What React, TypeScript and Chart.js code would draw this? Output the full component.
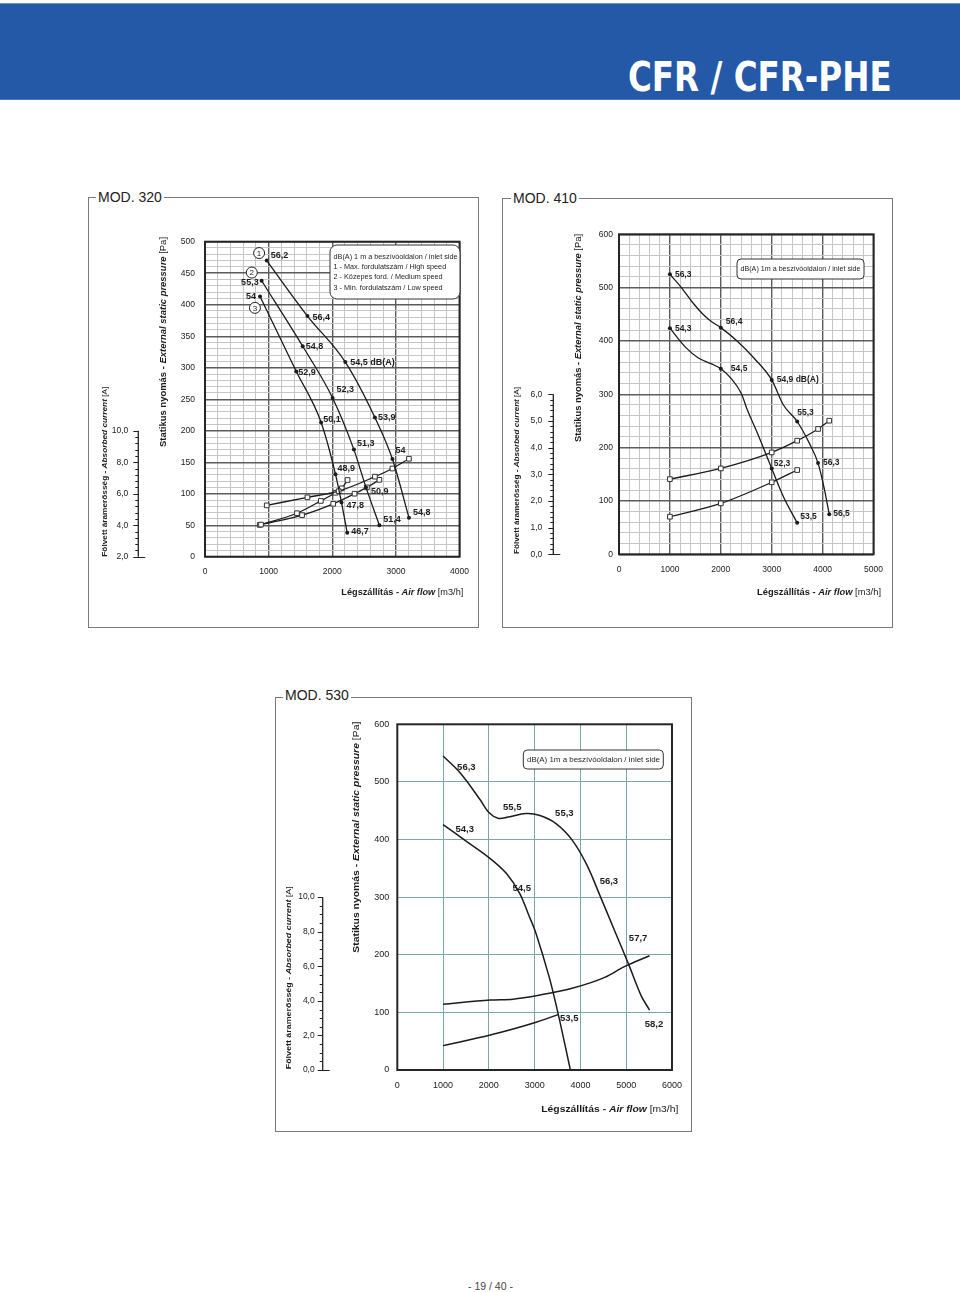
import React, { useEffect, useLayoutEffect, useRef } from 'react';
import { Chart, registerables } from 'chart.js';

Chart.register(...registerables);

const FONT = '"Liberation Sans", Arial, Helvetica, sans-serif';
const INK = '#1c1c1c';

// ---------------- MOD. 320 ----------------
// static pressure [Pa] vs air flow [m3/h] for three speeds, with dB(A) at the marked points
const flow320High = [970, 1610, 2205, 2670, 2945, 3205];
const pres320High = [470, 382, 309, 221, 155, 62];
const db320High = ['56,2', '56,4', '54,5 dB(A)', '53,9', '54', '54,8'];
const flow320Med = [890, 1535, 2005, 2340, 2530, 2740];
const pres320Med = [438, 334, 252, 170, 110, 50];
const db320Med = ['55,3', '54,8', '52,3', '51,3', '50,9', '51,4'];
const flow320Low = [865, 1435, 1825, 2050, 2145, 2235];
const pres320Low = [413, 294, 213, 131, 86, 38];
const db320Low = ['54', '52,9', '50,1', '48,9', '47,8', '46,7'];
// absorbed current [A]
const flow320CurHigh = [970, 1610, 2100, 2670, 2945, 3205];
const cur320High = [5.26, 5.77, 6.16, 7.08, 7.6, 8.22];
const flow320CurMed = [880, 1525, 2015, 2350, 2545, 2740];
const cur320Med = [4.04, 4.64, 5.36, 6.0, 6.4, 6.88];
const flow320CurLow = [860, 1445, 1820, 2050, 2150, 2240];
const cur320Low = [4.02, 4.76, 5.54, 6.06, 6.34, 6.87];
// speed markers (circled numbers)
const speedMarks320 = ['1', '2', '3'];
const speedMarkFlow320 = [850, 735, 785];
const speedMarkPres320 = [482, 451, 395];
const legend320 = [
  'dB(A) 1 m a beszívóoldalon / inlet side',
  '1 - Max. fordulatszám / High speed',
  '2 - Közepes ford. / Medium speed',
  '3 - Min. fordulatszám / Low speed',
];

// ---------------- MOD. 410 ----------------
const flow410HighCurve = [1000, 1210, 1430, 1660, 1820, 2000, 2330, 2650, 3000, 3230, 3500, 3740, 3910, 4030, 4130];
const pres410HighCurve = [525, 502, 474, 449, 436, 425, 399, 368, 327, 280, 249, 208, 171, 124, 75];
const flow410LowCurve = [1000, 1300, 1560, 1820, 2000, 2200, 2400, 2520, 2720, 3000, 3230, 3500];
const pres410LowCurve = [424, 389, 368, 357, 348, 330, 302, 271, 227, 161, 108, 59];
const flow410HighPts = [1000, 2000, 3000, 3500, 3910, 4130];
const pres410HighPts = [525, 425, 327, 249, 171, 75];
const db410High = ['56,3', '56,4', '54,9 dB(A)', '55,3', '56,3', '56,5'];
const flow410LowPts = [1000, 2000, 3000, 3500];
const pres410LowPts = [424, 348, 161, 59];
const db410Low = ['54,3', '54,5', '52,3', '53,5'];
const flow410CurHigh = [1000, 2000, 3000, 3500, 3910, 4130];
const cur410High = [2.82, 3.22, 3.82, 4.26, 4.7, 5.01];
const flow410CurLow = [1000, 2000, 3000, 3500];
const cur410Low = [1.41, 1.91, 2.7, 3.16];
const legend410 = ['dB(A) 1m a beszívóoldalon / inlet side'];

// ---------------- MOD. 530 ----------------
const flow530High = [1000, 1380, 1810, 2000, 2200, 2420, 2810, 3100, 3460, 3820, 4140, 4420, 4740, 5060, 5320, 5510];
const pres530High = [545, 515, 469, 447, 437, 439, 445, 442, 428, 399, 356, 304, 243, 182, 130, 104];
const flow530Low = [1000, 1525, 2030, 2385, 2670, 2870, 3030, 3315, 3495, 3640, 3780];
const pres530Low = [426, 396, 367, 341, 307, 269, 237, 162, 104, 52, 0];
const flow530CurHigh = [1000, 2030, 2530, 3100, 3820, 4530, 4960, 5510];
const cur530High = [3.8, 4.05, 4.1, 4.33, 4.73, 5.36, 5.98, 6.61];
const flow530CurLow = [1000, 2030, 2960, 3530];
const cur530Low = [1.41, 2.02, 2.7, 3.22];
const db530 = ['56,3', '55,5', '55,3', '54,3', '54,5', '56,3', '57,7', '53,5', '58,2'];
const db530Flow = [1508, 2511, 3649, 1472, 2717, 4622, 5260, 3757, 5606];
const db530Pres = [526, 455, 445, 418, 316, 328, 228, 89, 80];
const legend530 = ['dB(A) 1m a beszívóoldalon / inlet side'];

// axis titles (text, style: 0 normal, 1 bold, 2 bold italic)
const titlePressure: [string, number][] = [['Statikus nyomás - ', 1], ['External static pressure', 2], [' [Pa]', 0]];
const titleCurrent: [string, number][] = [['Fölvett áramerősség - ', 1], ['Absorbed current', 2], [' [A]', 0]];
const titleFlow: [string, number][] = [['Légszállítás - ', 1], ['Air flow', 2], [' [m3/h]', 0]];

// label offsets (pixels) relative to marked points; negative dx = text ends left of point
const off320High = [[4, -5], [5, 1], [5, 0], [3, 0], [3, -9], [4, -5]];
const off320Med = [[-3, 2], [3, 0], [4, -8], [3, -6], [5, 4], [4, -6]];
const off320Low = [[-4, 0], [2, 1], [2, -3], [2, -6], [5, 3], [4, -1]];
const off410High = [[5, 0], [5, -6], [5, 0], [0, -9], [5, 0], [4, -1]];
const off410Low = [[5, 0], [10, 0], [2, -5], [3, -6]];

const pts = (xs: number[], ys: number[]) => xs.map((x, i) => ({ x, y: ys[i] }));

function presDs(xs: number[], ys: number[], showLine: boolean, radius: number, width: number, smooth = false) {
  return {
    data: pts(xs, ys),
    showLine,
    borderColor: INK,
    borderWidth: width,
    pointRadius: radius,
    pointBackgroundColor: INK,
    pointBorderWidth: 0,
    cubicInterpolationMode: smooth ? 'default' : 'monotone',
    tension: smooth ? 0.35 : 0,
    fill: false,
    yAxisID: 'y',
  };
}
function curDs(xs: number[], ys: number[], radius: number, width: number) {
  return {
    data: pts(xs, ys),
    borderColor: INK,
    borderWidth: width,
    pointStyle: 'rect',
    pointRadius: radius,
    pointBackgroundColor: '#ffffff',
    pointBorderColor: '#333',
    pointBorderWidth: 1,
    cubicInterpolationMode: 'monotone',
    fill: false,
    yAxisID: 'y2',
  };
}

function fontOf(st: number, size: number) {
  return `${st === 2 ? 'italic ' : ''}${st >= 1 ? 'bold ' : ''}${size}px ${FONT}`;
}

function drawRich(ctx: CanvasRenderingContext2D, segs: [string, number][], size: number, x: number, y: number,
  len: number, rotated: boolean, align: 'left' | 'right', color: string) {
  ctx.save();
  ctx.translate(x, y);
  if (rotated) ctx.rotate(-Math.PI / 2);
  const widths = segs.map(([t, st]) => { ctx.font = fontOf(st, size); return ctx.measureText(t).width; });
  const total = widths.reduce((a, b) => a + b, 0);
  ctx.scale(len ? len / total : 1, 1);
  let cx = align === 'right' ? -total : 0;
  ctx.fillStyle = color;
  ctx.textBaseline = 'middle';
  ctx.textAlign = 'left';
  segs.forEach(([t, st], i) => { ctx.font = fontOf(st, size); ctx.fillText(t, cx, 0); cx += widths[i]; });
  ctx.restore();
}

const isMajor = (v: number, m: number) => Math.abs(v / m - Math.round(v / m)) < 1e-6;

function overlayPlugin(spec: any) {
  return {
    id: 'overlay' + spec.key,
    beforeDatasetsDraw(chart: any) {
      const { ctx, chartArea: a } = chart;
      ctx.save();
      ctx.strokeStyle = '#262626';
      ctx.lineWidth = 2;
      ctx.strokeRect(a.left, a.top, a.right - a.left, a.bottom - a.top);
      ctx.restore();
    },
    afterDraw(chart: any) {
      const ctx: CanvasRenderingContext2D = chart.ctx;
      const ox = spec.ox, oy = spec.oy;
      const sx = chart.scales.x, sy = chart.scales.y, s2 = chart.scales.y2;
      ctx.save();
      // point labels
      (spec.pointLabels || []).forEach((pl: any) => {
        const meta = chart.getDatasetMeta(pl.ds);
        ctx.font = `bold ${spec.labelSize}px ${FONT}`;
        ctx.fillStyle = INK;
        ctx.textBaseline = 'middle';
        pl.texts.forEach((t: string, i: number) => {
          const el = meta.data[i];
          const [dx, dy] = pl.offs[i];
          ctx.textAlign = dx < 0 ? 'right' : 'left';
          ctx.fillText(t, el.x + dx, el.y + dy);
        });
      });
      // free labels (data positioned)
      if (spec.freeLabels) {
        const fl = spec.freeLabels;
        ctx.font = `bold ${spec.labelSize}px ${FONT}`;
        ctx.fillStyle = INK;
        ctx.textBaseline = 'middle';
        ctx.textAlign = 'center';
        fl.texts.forEach((t: string, i: number) => {
          ctx.fillText(t, sx.getPixelForValue(fl.xs[i]), sy.getPixelForValue(fl.ys[i]));
        });
      }
      // circled speed numbers
      if (spec.circles) {
        const c = spec.circles;
        c.texts.forEach((t: string, i: number) => {
          const x = sx.getPixelForValue(c.xs[i]);
          const y = sy.getPixelForValue(c.ys[i]);
          ctx.beginPath();
          ctx.arc(x, y, 5.5, 0, Math.PI * 2);
          ctx.fillStyle = '#fff';
          ctx.fill();
          ctx.lineWidth = 1;
          ctx.strokeStyle = '#222';
          ctx.stroke();
          ctx.fillStyle = '#222';
          ctx.font = `8px ${FONT}`;
          ctx.textAlign = 'center';
          ctx.textBaseline = 'middle';
          ctx.fillText(t, x, y + 0.5);
        });
      }
      // legend box
      if (spec.legend) {
        const L = spec.legend;
        const bx = L.x - ox, by = L.y - oy;
        ctx.beginPath();
        (ctx as any).roundRect(bx, by, L.w, L.h, L.r);
        ctx.fillStyle = '#fff';
        ctx.fill();
        ctx.lineWidth = 1;
        ctx.strokeStyle = '#333';
        ctx.stroke();
        ctx.font = `${L.size}px ${FONT}`;
        const w0 = ctx.measureText(L.lines[0]).width;
        const k = L.len / w0;
        L.lines.forEach((t: string, i: number) => {
          ctx.save();
          ctx.translate(L.tx - ox, L.ty - oy + i * L.gap);
          ctx.scale(k, 1);
          ctx.font = `${L.size}px ${FONT}`;
          ctx.fillStyle = '#1e1e1e';
          ctx.textAlign = 'left';
          ctx.textBaseline = 'middle';
          ctx.fillText(t, 0, 0);
          ctx.restore();
        });
      }
      // secondary (current) axis
      const ca = spec.cur;
      const ax = ca.x - ox;
      const yMin = s2.getPixelForValue(ca.min), yMax = s2.getPixelForValue(ca.max);
      ctx.strokeStyle = '#222';
      ctx.lineWidth = 1.3;
      ctx.beginPath();
      ctx.moveTo(ax, yMin);
      ctx.lineTo(ax, yMax);
      ctx.stroke();
      ctx.lineWidth = 1;
      const n = Math.round((ca.max - ca.min) / ca.minor);
      for (let i = 0; i <= n; i++) {
        const v = ca.min + i * ca.minor;
        const y = Math.round(s2.getPixelForValue(v)) + 0.5;
        const maj = isMajor(v - ca.min, ca.major);
        ctx.beginPath();
        if (i === 0) { ctx.moveTo(ax - 5, y); ctx.lineTo(ax + 7, y); }
        else { ctx.moveTo(ax - (maj ? 5 : 3), y); ctx.lineTo(ax, y); }
        ctx.stroke();
      }
      ctx.font = `${ca.size}px ${FONT}`;
      ctx.fillStyle = '#1a1a1a';
      ctx.textAlign = 'right';
      ctx.textBaseline = 'middle';
      const nm = Math.round((ca.max - ca.min) / ca.major);
      for (let i = 0; i <= nm; i++) {
        const v = ca.min + i * ca.major;
        ctx.fillText(v.toFixed(1).replace('.', ','), ax - ca.gap, s2.getPixelForValue(v));
      }
      // axis titles
      const T = spec.titles;
      drawRich(ctx, titlePressure, T.p.size, T.p.x - ox, T.p.y - oy, T.p.len, true, 'left', '#1a1a1a');
      drawRich(ctx, titleCurrent, T.c.size, T.c.x - ox, T.c.y - oy, T.c.len, true, 'left', '#1a1a1a');
      drawRich(ctx, titleFlow, T.f.size, T.f.x - ox, T.f.y - oy, T.f.len, false, 'right', '#1a1a1a');
      ctx.restore();
    },
  };
}

function buildConfig(spec: any) {
  const L = spec.area.left - spec.ox;
  const T = spec.area.top - spec.oy;
  const R = spec.area.right - spec.ox;
  const B = spec.area.bottom - spec.oy;
  const yW = 40, xH = 30;
  const tickFont = { family: FONT, size: spec.tickSize };
  return {
    type: 'line',
    data: { datasets: spec.datasets },
    options: {
      responsive: false,
      animation: false,
      events: [],
      layout: { padding: { left: L - yW, top: T, right: spec.w - R, bottom: spec.h - B - xH } },
      plugins: { legend: { display: false }, tooltip: { enabled: false }, title: { display: false } },
      scales: {
        x: {
          type: 'linear',
          min: 0,
          max: spec.xMax,
          afterFit: (s: any) => { s.height = xH; },
          ticks: {
            stepSize: spec.xStep,
            autoSkip: false,
            maxRotation: 0,
            padding: spec.xPad,
            color: '#1a1a1a',
            font: tickFont,
            callback: (v: number) => (isMajor(v, spec.xMajor) ? String(v) : ''),
          },
          grid: {
            drawTicks: false,
            color: (c: any) => (c.tick && isMajor(c.tick.value, spec.xMajor) ? spec.gridMajor : spec.gridMinor),
            lineWidth: (c: any) => (c.tick && isMajor(c.tick.value, spec.xMajor) ? spec.gridMajorW : spec.gridMinorW),
          },
          border: { display: false },
        },
        y: {
          type: 'linear',
          min: 0,
          max: spec.yMax,
          afterFit: (s: any) => { s.width = yW; },
          ticks: {
            stepSize: spec.yStep,
            autoSkip: false,
            padding: spec.yPad,
            color: '#1a1a1a',
            font: tickFont,
            callback: (v: number) => (isMajor(v, spec.yMajor) ? String(v) : ''),
          },
          grid: {
            drawTicks: false,
            color: (c: any) => (c.tick && isMajor(c.tick.value, spec.yMajor) ? spec.gridMajor : spec.gridMinor),
            lineWidth: (c: any) => (c.tick && isMajor(c.tick.value, spec.yMajor) ? spec.gridMajorW : spec.gridMinorW),
          },
          border: { display: false },
        },
        y2: { type: 'linear', display: false, min: spec.y2Min, max: spec.y2Max },
      },
    },
    plugins: [overlayPlugin(spec)],
  };
}

const spec320 = {
  key: '320', ox: 88, oy: 197, w: 391, h: 431,
  area: { left: 205, top: 241.7, right: 463, bottom: 556.7 },
  xMax: 4000, xStep: 200, xMajor: 1000, yMax: 500, yStep: 10, yMajor: 50, y2Min: 2, y2Max: 22,
  gridMajor: '#5c5c5c', gridMinor: '#c6c6c6', gridMajorW: 1.4, gridMinorW: 1,
  tickSize: 8.5, xPad: 10, yPad: 10, labelSize: 9,
  datasets: [
    presDs(flow320High, pres320High, true, 2, 1.3),
    presDs(flow320Med, pres320Med, true, 2, 1.3),
    presDs(flow320Low, pres320Low, true, 2, 1.3),
    curDs(flow320CurHigh, cur320High, 3.3, 1.3),
    curDs(flow320CurMed, cur320Med, 3.3, 1.3),
    curDs(flow320CurLow, cur320Low, 3.3, 1.3),
  ],
  pointLabels: [
    { ds: 0, texts: db320High, offs: off320High },
    { ds: 1, texts: db320Med, offs: off320Med },
    { ds: 2, texts: db320Low, offs: off320Low },
  ],
  circles: { texts: speedMarks320, xs: speedMarkFlow320, ys: speedMarkPres320 },
  legend: { x: 330, y: 245, w: 130, h: 54, r: 7, lines: legend320, size: 7.5, tx: 333.5, ty: 256.5, gap: 10.4, len: 124 },
  cur: { x: 138.3, min: 2, max: 10, major: 2, minor: 0.4, gap: 10, size: 8.5 },
  titles: {
    p: { x: 164, y: 447, len: 210, size: 8.5 },
    c: { x: 105, y: 556.7, len: 170, size: 7.5 },
    f: { x: 463.3, y: 592.7, len: 122, size: 8.5 },
  },
};

const spec410 = {
  key: '410', ox: 502, oy: 198, w: 391, h: 430,
  area: { left: 619, top: 234.3, right: 878.3, bottom: 554.3 },
  xMax: 5000, xStep: 200, xMajor: 1000, yMax: 600, yStep: 20, yMajor: 100, y2Min: 0, y2Max: 12,
  gridMajor: '#5c5c5c', gridMinor: '#c6c6c6', gridMajorW: 1.4, gridMinorW: 1,
  tickSize: 8.5, xPad: 10, yPad: 6, labelSize: 8.5,
  datasets: [
    presDs(flow410HighCurve, pres410HighCurve, true, 0, 1.3),
    presDs(flow410LowCurve, pres410LowCurve, true, 0, 1.3),
    presDs(flow410HighPts, pres410HighPts, false, 2, 1.3),
    presDs(flow410LowPts, pres410LowPts, false, 2, 1.3),
    curDs(flow410CurHigh, cur410High, 3.3, 1.3),
    curDs(flow410CurLow, cur410Low, 3.3, 1.3),
  ],
  pointLabels: [
    { ds: 2, texts: db410High, offs: off410High },
    { ds: 3, texts: db410Low, offs: off410Low },
  ],
  legend: { x: 737, y: 259, w: 127, h: 20, r: 4, lines: legend410, size: 7.5, tx: 740.5, ty: 269.3, gap: 10, len: 120 },
  cur: { x: 553.3, min: 0, max: 6, major: 1, minor: 0.2, gap: 11, size: 8.5 },
  titles: {
    p: { x: 579, y: 442, len: 208, size: 8.5 },
    c: { x: 516.7, y: 554, len: 167, size: 7.5 },
    f: { x: 881, y: 592.7, len: 124, size: 8.5 },
  },
};

const spec530 = {
  key: '530', ox: 275, oy: 697, w: 417, h: 435,
  area: { left: 397.3, top: 724.3, right: 676.7, bottom: 1070 },
  xMax: 6000, xStep: 1000, xMajor: 1000, yMax: 600, yStep: 100, yMajor: 100, y2Min: 0, y2Max: 20,
  gridMajor: '#7ea5a9', gridMinor: '#7ea5a9', gridMajorW: 1, gridMinorW: 1,
  tickSize: 9, xPad: 10, yPad: 8, labelSize: 9.5,
  datasets: [
    presDs(flow530High, pres530High, true, 0, 1.5, true),
    presDs(flow530Low, pres530Low, true, 0, 1.5, true),
    curDs(flow530CurHigh, cur530High, 0, 1.5),
    curDs(flow530CurLow, cur530Low, 0, 1.5),
  ],
  freeLabels: { texts: db530, xs: db530Flow, ys: db530Pres },
  legend: { x: 523.3, y: 750, w: 140, h: 19, r: 4, lines: legend530, size: 8, tx: 527, ty: 759.5, gap: 10, len: 133 },
  cur: { x: 322.7, min: 0, max: 10, major: 2, minor: 0.5, gap: 8, size: 8.5 },
  titles: {
    p: { x: 356, y: 952.7, len: 231, size: 9.5 },
    c: { x: 288.3, y: 1069.3, len: 183, size: 8 },
    f: { x: 678.3, y: 1109.3, len: 137, size: 9.5 },
  },
};

function ChartCanvas({ spec }: { spec: any }) {
  const ref = useRef<HTMLCanvasElement>(null);
  useEffect(() => {
    const chart = new Chart(ref.current as HTMLCanvasElement, buildConfig(spec) as any);
    return () => chart.destroy();
  }, []);
  return (
    <canvas
      ref={ref}
      width={spec.w}
      height={spec.h}
      style={{ position: 'absolute', left: spec.ox, top: spec.oy, width: spec.w, height: spec.h }}
    />
  );
}

function Panel({ spec, title, titleLeft, titleY }: { spec: any; title: string; titleLeft: number; titleY: number }) {
  return (
    <>
      <div
        style={{
          position: 'absolute', left: spec.ox, top: spec.oy, width: spec.w, height: spec.h,
          border: '1px solid #7a7a7a', boxSizing: 'border-box',
        }}
      />
      <ChartCanvas spec={spec} />
      <span
        style={{
          position: 'absolute', left: titleLeft - 2, top: titleY - 9, padding: '0 2px', background: '#fff',
          font: `14px ${FONT}`, lineHeight: '18px', color: '#222', whiteSpace: 'nowrap',
        }}
      >
        {title}
      </span>
    </>
  );
}

export default function App() {
  const titleRef = useRef<HTMLSpanElement>(null);
  useLayoutEffect(() => {
    const el = titleRef.current;
    if (!el) return;
    const w = el.offsetWidth;
    if (w > 0) el.style.transform = `scaleX(${264 / w})`;
  }, []);
  return (
    <div style={{ position: 'absolute', left: 0, top: 0, width: 960, height: 1292, background: '#fff', overflow: 'hidden' }}>
      <div
        style={{
          position: 'absolute', left: 0, top: 3, width: 960, height: 97, background: '#2459a7',
          borderTop: '1px solid #6d94cf', borderBottom: '1px solid #4a78bd', boxSizing: 'border-box',
        }}
      />
      <span
        ref={titleRef}
        style={{
          position: 'absolute', right: 68, top: 55, color: '#fff', whiteSpace: 'nowrap',
          font: 'bold 40px "DejaVu Sans Condensed", "DejaVu Sans", sans-serif', lineHeight: '44px',
          transformOrigin: 'right center',
        }}
      >
        CFR / CFR-PHE
      </span>
      <Panel spec={spec320} title="MOD. 320" titleLeft={98} titleY={197} />
      <Panel spec={spec410} title="MOD. 410" titleLeft={513} titleY={198} />
      <Panel spec={spec530} title="MOD. 530" titleLeft={285} titleY={695} />
      <div
        style={{
          position: 'absolute', left: 420, top: 1279, width: 141, textAlign: 'center',
          font: `10.5px ${FONT}`, lineHeight: '14px', color: '#444',
        }}
      >
        - 19 / 40 -
      </div>
    </div>
  );
}
